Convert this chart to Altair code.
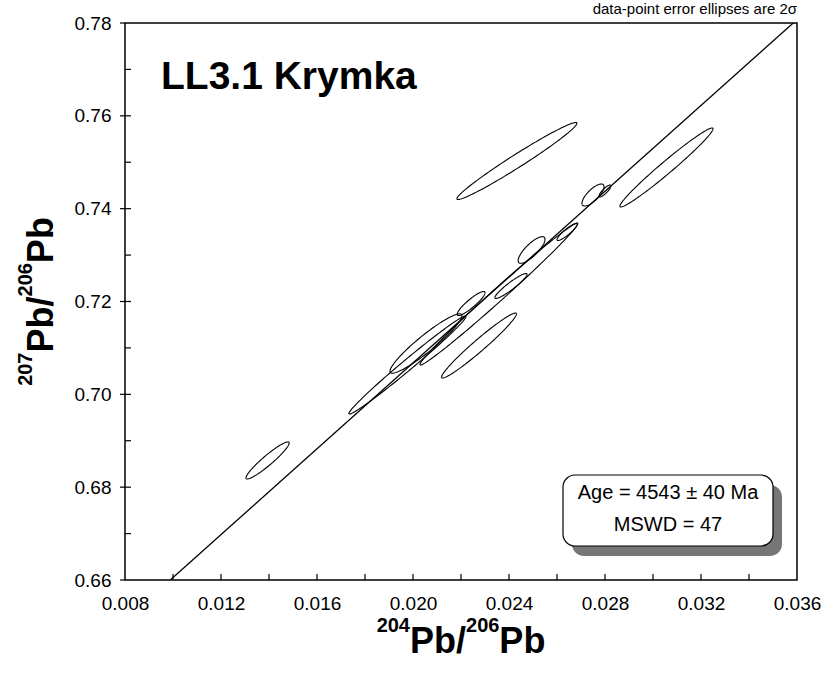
import numpy as np
import pandas as pd
import altair as alt

# ---- Pb-Pb data: ellipse centres, 2-sigma half-widths and error correlations ----
pb46 = [0.02433, 0.03056, 0.02750, 0.02800, 0.02642, 0.02494, 0.02275,
        0.02242, 0.02408, 0.01394, 0.01977, 0.02054, 0.02358]
pb46_err = [0.00250, 0.00194, 0.00046, 0.00025, 0.00042, 0.00056, 0.00156,
            0.00058, 0.00067, 0.00090, 0.00244, 0.00150, 0.00329]
pb76 = [0.75027, 0.74887, 0.74294, 0.74381, 0.73497, 0.73110, 0.71052,
        0.71957, 0.72334, 0.68575, 0.70632, 0.71095, 0.72162]
pb76_err = [0.00829, 0.00851, 0.00237, 0.00129, 0.00183, 0.00287, 0.00700,
            0.00259, 0.00269, 0.00399, 0.01056, 0.00640, 0.01530]
err_rho = [0.980, 0.980, 0.75, 0.85, 0.90, 0.80, 0.972,
           0.90, 0.935, 0.940, 0.990, 0.935, 0.993]

# isochron regression
iso_intercept = 0.6143
iso_slope = 4.623

# axes
x_domain = [0.008, 0.036]
y_domain = [0.66, 0.78]
x_labels = [0.008, 0.012, 0.016, 0.020, 0.024, 0.028, 0.032, 0.036]
y_labels = [0.66, 0.68, 0.70, 0.72, 0.74, 0.76, 0.78]
x_ticks = [0.010, 0.012, 0.014, 0.016, 0.018, 0.020, 0.022, 0.024,
           0.026, 0.028, 0.030, 0.032, 0.034]
y_ticks = [0.67, 0.68, 0.69, 0.70, 0.71, 0.72, 0.73, 0.74, 0.75, 0.76, 0.77]

title_text = "LL3.1 Krymka"
note_text = "data-point error ellipses are 2\u03c3"
age_text = "Age = 4543 \u00b1 40 Ma"
mswd_text = "MSWD = 47"

W, H = 672, 557
FONT = "Liberation Sans, Arial, sans-serif"

# ---- ellipse outlines from centre, half-widths and correlation ----
t = np.linspace(0.0, 2.0 * np.pi, 145)
rows = []
for i, (cx, ex, cy, ey, r) in enumerate(zip(pb46, pb46_err, pb76, pb76_err, err_rho)):
    xs = cx + ex * np.cos(t)
    ys = cy + ey * (r * np.cos(t) + np.sqrt(1.0 - r * r) * np.sin(t))
    for k, (a, b) in enumerate(zip(xs, ys)):
        rows.append({"id": i, "k": k, "x": float(a), "y": float(b)})
ell_df = pd.DataFrame(rows)

iso_df = pd.DataFrame({"x": x_domain,
                       "y": [iso_intercept + iso_slope * v for v in x_domain]})

xscale = alt.Scale(domain=x_domain, nice=False, zero=False)
yscale = alt.Scale(domain=y_domain, nice=False, zero=False)

ellipses = alt.Chart(ell_df).mark_line(color="black", strokeWidth=1.1, clip=True).encode(
    x=alt.X("x:Q", scale=xscale,
            axis=alt.Axis(values=x_labels, format=".3f", title=None, ticks=False,
                          tickSize=0, domain=False, grid=False, labelFontSize=19,
                          labelPadding=14, labelFont=FONT, labelColor="black",
                          labelFlush=False)),
    y=alt.Y("y:Q", scale=yscale,
            axis=alt.Axis(values=y_labels, format=".2f", title=None, ticks=False,
                          tickSize=0, domain=False, grid=False, labelFontSize=19,
                          labelPadding=14, labelFont=FONT, labelColor="black",
                          labelFlush=False)),
    detail="id:N",
    order="k:Q",
)

isochron = alt.Chart(iso_df).mark_line(color="black", strokeWidth=1.3, clip=True).encode(
    x=alt.X("x:Q", scale=xscale), y=alt.Y("y:Q", scale=yscale))

# inward tick marks
xt = alt.Chart(pd.DataFrame({"v": x_ticks})).mark_rule(color="black", strokeWidth=1.2).encode(
    x=alt.X("v:Q", scale=xscale), y=alt.value(H), y2=alt.value(H - 6))
yt = alt.Chart(pd.DataFrame({"v": y_ticks})).mark_rule(color="black", strokeWidth=1.2).encode(
    y=alt.Y("v:Q", scale=yscale), x=alt.value(0), x2=alt.value(6))
yt_out = alt.Chart(pd.DataFrame({"v": y_labels})).mark_rule(color="black", strokeWidth=1.2).encode(
    y=alt.Y("v:Q", scale=yscale), x=alt.value(-5), x2=alt.value(0))

one = pd.DataFrame({"k": [0]})

title = alt.Chart(one).mark_text(text=title_text, font=FONT, fontSize=39, fontWeight="bold",
                                 align="left", baseline="alphabetic", color="black").encode(
    x=alt.value(36), y=alt.value(66))
note = alt.Chart(one).mark_text(text=note_text, font=FONT, fontSize=15, align="right",
                                baseline="alphabetic", color="black").encode(
    x=alt.value(W), y=alt.value(-9))

# result box with drop shadow
bx0, bx1, by0, by1 = 438, 648, 452, 523
shadow = alt.Chart(one).mark_rect(fill="#767676", cornerRadius=12).encode(
    x=alt.value(bx0 + 9), x2=alt.value(bx1 + 9), y=alt.value(by0 + 10), y2=alt.value(by1 + 10))
box = alt.Chart(one).mark_rect(fill="white", stroke="black", strokeWidth=1.2, cornerRadius=12).encode(
    x=alt.value(bx0), x2=alt.value(bx1), y=alt.value(by0), y2=alt.value(by1))
age = alt.Chart(one).mark_text(text=age_text, font=FONT, fontSize=20, align="center",
                               baseline="middle", color="black").encode(
    x=alt.value((bx0 + bx1) / 2), y=alt.value(470))
mswd = alt.Chart(one).mark_text(text=mswd_text, font=FONT, fontSize=20, align="center",
                                baseline="middle", color="black").encode(
    x=alt.value((bx0 + bx1) / 2), y=alt.value(502))

# axis titles with superscript mass numbers
BOLD_W = {"P": 0.667, "b": 0.611, "/": 0.278, "0": 0.556, "2": 0.556,
          "4": 0.556, "6": 0.556, "7": 0.556}
BIG, SUP, RAISE = 36, 20, 21


def pieces(parts):
    out, pos = [], 0.0
    for s, sup in parts:
        size = SUP if sup else BIG
        out.append((s, sup, pos))
        pos += sum(BOLD_W[c] for c in s) * size
    return out, pos


x_parts, x_len = pieces([("204", True), ("Pb/", False), ("206", True), ("Pb", False)])
y_parts, y_len = pieces([("207", True), ("Pb/", False), ("206", True), ("Pb", False)])

title_layers = []
x_start = W / 2 - x_len / 2
x_base = 630
for s, sup, pos in x_parts:
    title_layers.append(alt.Chart(one).mark_text(
        text=s, font=FONT, fontSize=SUP if sup else BIG, fontWeight="bold",
        align="left", baseline="alphabetic", color="black").encode(
        x=alt.value(x_start + pos), y=alt.value(x_base - (RAISE if sup else 0))))

y_start = H / 2 + y_len / 2
y_base = -72
for s, sup, pos in y_parts:
    title_layers.append(alt.Chart(one).mark_text(
        text=s, font=FONT, fontSize=SUP if sup else BIG, fontWeight="bold", angle=270,
        align="left", baseline="alphabetic", color="black").encode(
        x=alt.value(y_base - (RAISE if sup else 0)), y=alt.value(y_start - pos)))

chart = alt.layer(
    ellipses, isochron, xt, yt, yt_out, shadow, box, age, mswd, title, note, *title_layers
).properties(
    width=W, height=H,
    autosize=alt.AutoSizeParams(type="none"),
    padding={"left": 125, "top": 23, "right": 30, "bottom": 104},
    background="white",
).configure_view(stroke="black", strokeWidth=1.5)

chart.save("out.html", embed_options={"renderer": "svg", "actions": False})
